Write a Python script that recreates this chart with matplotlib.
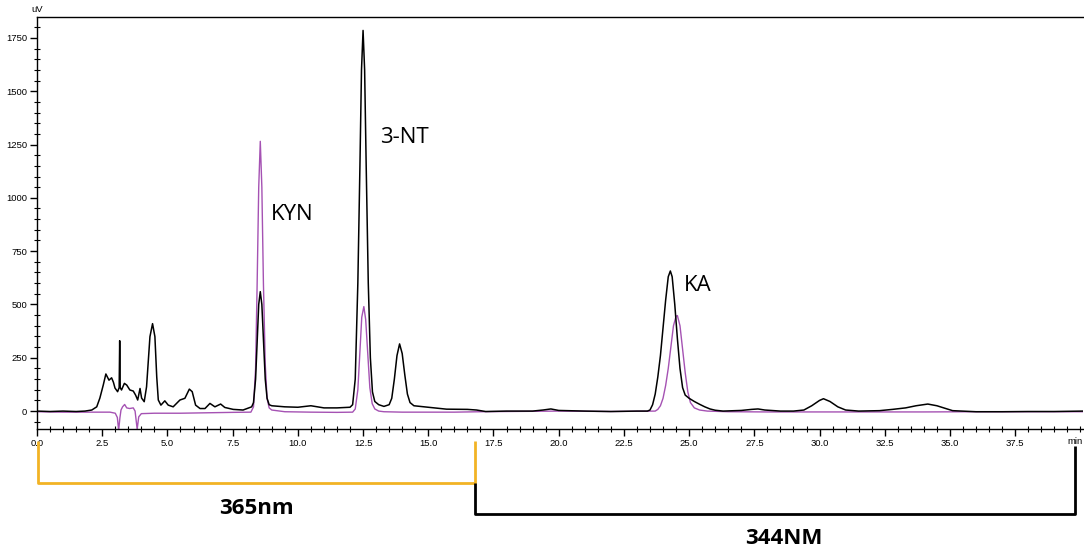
import matplotlib
matplotlib.use("Agg")
import matplotlib.pyplot as plt
from matplotlib.ticker import MultipleLocator, FixedLocator
from matplotlib.lines import Line2D

# ---- data ----
t_black = [0.0, 0.5, 1.0, 1.5, 1.84, 2.1, 2.29, 2.41, 2.54, 2.64, 2.70, 2.76, 2.86, 2.93,
           2.99, 3.09, 3.15, 3.17, 3.19, 3.24, 3.35, 3.44, 3.56, 3.69, 3.78, 3.86, 3.95,
           4.01, 4.11, 4.20, 4.33, 4.43, 4.52, 4.59, 4.65, 4.75, 4.90, 5.03, 5.22, 5.48,
           5.67, 5.84, 5.95, 6.08, 6.25, 6.44, 6.63, 6.82, 7.04, 7.20, 7.52, 7.90, 8.23,
           8.30, 8.38, 8.45, 8.50, 8.56, 8.62, 8.68, 8.75, 8.82, 8.90, 9.0, 9.5, 10.0,
           10.5, 11.0, 11.5, 12.0, 12.1, 12.2, 12.3, 12.38, 12.44, 12.5, 12.56, 12.62,
           12.7, 12.78, 12.86, 12.95, 13.1, 13.3, 13.5, 13.6, 13.7, 13.8, 13.9, 14.0,
           14.1, 14.2, 14.3, 14.45, 15.0, 15.7, 16.5, 16.85, 17.2, 18.0, 19.0, 19.4,
           19.7, 20.0, 21.0, 22.0, 23.0, 23.4, 23.5, 23.6, 23.7, 23.8, 23.9, 24.0, 24.1,
           24.2, 24.28, 24.35, 24.45, 24.55, 24.65, 24.75, 24.85, 25.0, 25.2, 25.4, 25.6,
           25.8, 26.0, 26.3, 27.0, 27.4, 27.64, 27.9, 28.5, 29.0, 29.4, 29.7, 30.0, 30.15,
           30.4, 30.7, 31.0, 31.5, 32.3, 32.8, 33.3, 33.7, 34.15, 34.5, 35.1, 36.0, 37.0,
           38.0, 39.0, 40.1]
v_black = [0, -2, 0, -2, 0, 5, 20, 61, 122, 174, 160, 145, 156, 135,
           108, 91, 110, 330, 110, 99, 130, 122, 99, 94, 75, 52, 106,
           61, 44, 114, 349, 410, 349, 161, 52, 28, 48, 28, 20, 52,
           60, 103, 91, 28, 12, 12, 36, 20, 33, 17, 8, 5, 20,
           40, 150, 350, 500, 560, 500, 340, 150, 60, 30, 25, 20, 18,
           25, 15, 15, 18, 30, 150, 600, 1150, 1600, 1785, 1600, 1150,
           600, 250, 90, 45, 30, 22, 30, 60, 150, 260, 315, 270,
           170, 80, 40, 25, 18, 9, 8, 5, -2, 0, 0, 5,
           10, 3, 0, -2, 0, 0, 5, 30, 80, 160, 260, 390, 520,
           630, 657, 630, 500, 340, 200, 110, 75, 60, 45, 32, 20,
           10, 4, 0, 3, 8, 10, 5, 0, 0, 5, 25, 50, 58,
           45, 20, 5, 0, 2, 8, 15, 25, 33, 25, 2, -3, -3,
           -2, -2, 0]

t_purple = [0.0, 1.0, 2.0, 2.8, 3.0, 3.08, 3.13, 3.18, 3.22, 3.28, 3.36, 3.44, 3.55, 3.69,
            3.76, 3.84, 3.90, 4.0, 4.5, 5.5, 6.5, 7.5, 8.2, 8.3, 8.38, 8.44, 8.5, 8.56,
            8.62, 8.68, 8.75, 8.82, 8.9, 9.0, 9.5, 10.5, 11.5, 12.1, 12.2, 12.3, 12.38,
            12.45, 12.53, 12.6, 12.68, 12.76, 12.85, 12.95, 13.1, 13.3, 14.0, 15.0, 16.0,
            17.0, 18.0, 20.0, 22.0, 23.7, 23.8, 23.9, 24.0, 24.1, 24.2, 24.3, 24.4, 24.5,
            24.55, 24.65, 24.75, 24.85, 24.95, 25.05, 25.2, 25.4, 25.7, 26.5, 28.0, 30.0,
            32.0, 34.0, 36.0, 38.0, 40.1]
v_purple = [-3, -5, -5, -5, -10, -30, -90, -30, 5, 20, 31, 15, 12, 15,
            0, -85, -27, -12, -10, -10, -8, -6, -5, 20, 200, 600, 1050, 1265,
            1050, 600, 220, 60, 15, 5, -3, -5, -6, -5, 10, 100, 280,
            440, 490, 430, 270, 110, 35, 10, 0, -3, -5, -5, -5,
            -3, -2, 0, -2, 0, 8, 25, 60, 120, 200, 300, 400, 445,
            448, 400, 290, 180, 90, 40, 15, 5, 0, -3, -4, -4,
            -4, -4, -3, -3, -3]

peak_labels = ["KYN", "3-NT", "KA"]
peak_label_t = [8.97, 13.15, 24.8]
peak_label_v = [924, 1285, 591]

x_ticks = [0.0, 2.5, 5.0, 7.5, 10.0, 12.5, 15.0, 17.5, 20.0, 22.5, 25.0, 27.5, 30.0,
           32.5, 35.0, 37.5]
y_ticks = [0, 250, 500, 750, 1000, 1250, 1500, 1750]

bracket1_label = "365nm"
bracket2_label = "344NM"
bracket_split_t = 16.8

W, H = 1084, 551
fig = plt.figure(figsize=(W / 100, H / 100), dpi=100)
ax_l, ax_r, ax_t, ax_b = 37, 1083, 17, 429
ax = fig.add_axes([ax_l / W, 1 - ax_b / H, (ax_r - ax_l) / W, (ax_b - ax_t) / H])

purple = "#A552B3"
ax.plot(t_black, v_black, color="black", lw=1.1, zorder=3)
ax.plot(t_purple, v_purple, color=purple, lw=1.0, zorder=2)

ax.set_xlim(0, 40.1)
ax.set_ylim(-84, 1848)

ax.spines["right"].set_visible(False)
for s in ["top", "left", "bottom"]:
    ax.spines[s].set_linewidth(1.0)

ax.xaxis.set_major_locator(FixedLocator(x_ticks))
ax.xaxis.set_minor_locator(MultipleLocator(0.5))
ax.yaxis.set_major_locator(FixedLocator(y_ticks))
ax.yaxis.set_minor_locator(MultipleLocator(50))
ax.set_xticklabels([f"{v:.1f}" for v in x_ticks])
ax.set_yticklabels([str(v) for v in y_ticks])
tick_font = dict(family="Liberation Sans", size=6.8)
for lab in ax.get_xticklabels() + ax.get_yticklabels():
    lab.set_fontfamily("Liberation Sans")
    lab.set_fontsize(6.8)
ax.tick_params(axis="both", which="major", direction="out", length=5, width=1, pad=2)
ax.tick_params(axis="both", which="minor", direction="inout", length=4, width=0.8)

for lab, tt, vv in zip(peak_labels, peak_label_t, peak_label_v):
    ax.text(tt, vv, lab, fontsize=16, family="Open Sans", ha="left", va="center")

fig.text(ax_l / W, 1 - 10 / H, "uV", ha="center", va="center", **tick_font)
fig.text(1083 / W, 1 - 442 / H, "min", ha="right", va="center", **tick_font)

# brackets below axis
def fx(t):
    return ax_l + (ax_r - ax_l) * t / 40.1

trans = fig.transFigure
def line_px(xs, ys, color):
    fig.add_artist(Line2D([x / W for x in xs], [1 - y / H for y in ys],
                          color=color, lw=2, transform=trans, solid_capstyle="butt"))

orange = "#F2B325"
x0, x1, x2 = fx(0.03), fx(bracket_split_t), fx(39.8)
line_px([x0, x0, x1, x1], [441, 483, 483, 441], orange)
line_px([x1, x1, x2, x2], [483, 514, 514, 446], "black")

fig.text(((x0 + x1) / 2) / W, 1 - 509 / H, bracket1_label, ha="center", va="center",
         fontsize=16, fontweight="bold", family="Open Sans")
fig.text(784 / W, 1 - 538 / H, bracket2_label, ha="center", va="center",
         fontsize=16, fontweight="bold", family="Open Sans")

fig.savefig("out.png", dpi=100)
